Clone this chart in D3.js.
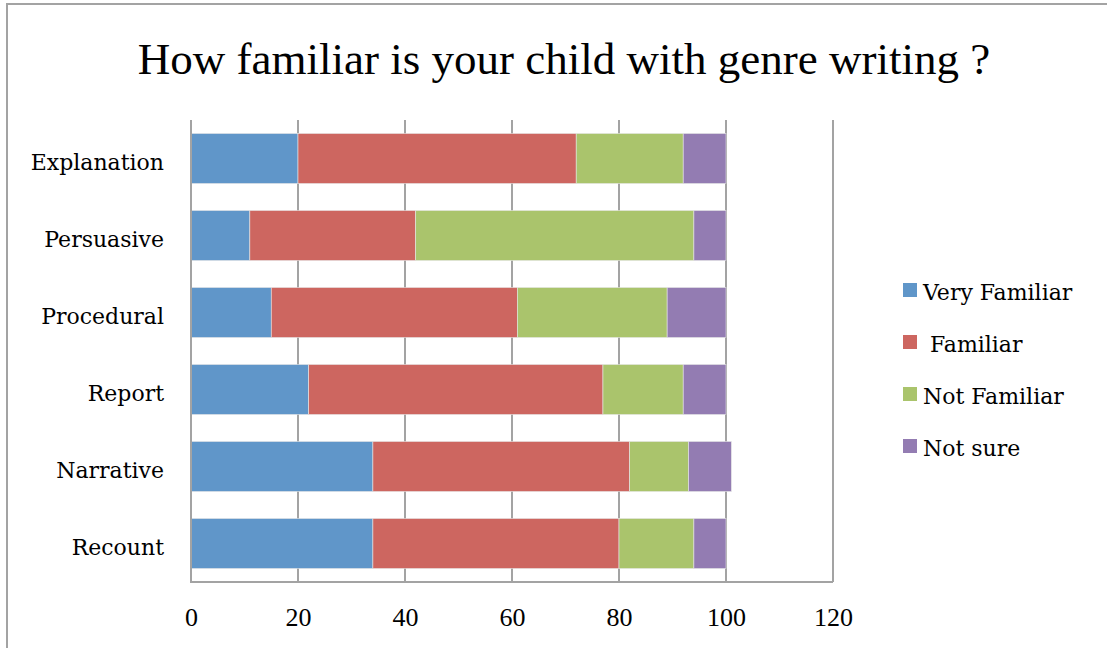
<!DOCTYPE html>
<html>
<head>
<meta charset="utf-8">
<script src="https://cdn.jsdelivr.net/npm/d3@7"></script>
<style>
  html, body { margin: 0; padding: 0; background: #ffffff; }
  svg { display: block; }
</style>
</head>
<body>
<svg id="chart" width="1107" height="648"></svg>
<script>
// Survey categories, listed top to bottom
const genres = ["Explanation", "Persuasive", "Procedural", "Report", "Narrative", "Recount"];

// Response shares per genre (stacked left to right)
const veryFamiliar = [20, 11, 15, 22, 34, 34];
const familiar     = [52, 31, 46, 55, 48, 46];
const notFamiliar  = [20, 52, 28, 15, 11, 14];
const notSure      = [8, 6, 11, 8, 8, 6];

const seriesNames = ["Very Familiar", " Familiar", "Not Familiar", "Not sure"];
const seriesColors = ["#6096c9", "#cd6660", "#aac46c", "#937cb2"];
const xTicks = [0, 20, 40, 60, 80, 100, 120];

const rows = genres.map((g, i) => ({
  genre: g,
  s0: veryFamiliar[i],
  s1: familiar[i],
  s2: notFamiliar[i],
  s3: notSure[i]
}));

const svg = d3.select("#chart");
const gridColor = "#a3a3a3";

// Outer chart frame (open to the right and bottom)
svg.append("path")
  .attr("d", "M7,648 L7,4 L1107,4")
  .attr("fill", "none")
  .attr("stroke", gridColor)
  .attr("stroke-width", 2);

const plot = { left: 191, right: 833, top: 120, bottom: 582 };

const x = d3.scaleLinear().domain([0, 120]).range([plot.left, plot.right]);
const y = d3.scaleBand().domain(genres).range([plot.top, plot.bottom])
  .paddingInner(0.35).paddingOuter(0.175);

// Vertical gridlines
svg.append("g")
  .selectAll("line")
  .data(xTicks)
  .join("line")
  .attr("x1", d => x(d)).attr("x2", d => x(d))
  .attr("y1", plot.top).attr("y2", plot.bottom)
  .attr("stroke", gridColor)
  .attr("stroke-width", 2);

// Stacked bars
const stack = d3.stack().keys(["s0", "s1", "s2", "s3"]);
const layers = stack(rows);

svg.append("g")
  .selectAll("g")
  .data(layers)
  .join("g")
  .attr("fill", (d, i) => seriesColors[i])
  .selectAll("rect")
  .data(d => d)
  .join("rect")
  .attr("x", d => x(d[0]))
  .attr("y", d => y(d.data.genre))
  .attr("width", d => x(d[1]) - x(d[0]))
  .attr("height", y.bandwidth())
  .attr("stroke", "#e6e6e6")
  .attr("stroke-width", 0.6);

// Axis frame: left and bottom lines
svg.append("path")
  .attr("d", `M${plot.left},${plot.top} L${plot.left},${plot.bottom} L${plot.right},${plot.bottom}`)
  .attr("fill", "none")
  .attr("stroke", gridColor)
  .attr("stroke-width", 2);

// X axis tick labels
const xAxis = d3.axisBottom(x).tickValues(xTicks).tickSize(0).tickPadding(0);
const xg = svg.append("g")
  .attr("transform", `translate(0,${plot.bottom})`)
  .call(xAxis);
xg.select(".domain").remove();
xg.selectAll("text")
  .attr("dy", null)
  .attr("y", 44)
  .attr("fill", "#000")
  .style("font-family", "'Liberation Serif', serif")
  .style("font-size", "26px");

// Y axis category labels
const yAxis = d3.axisLeft(y).tickSize(0).tickPadding(0);
const yg = svg.append("g")
  .attr("transform", `translate(164,0)`)
  .call(yAxis);
yg.select(".domain").remove();
yg.selectAll("text")
  .attr("dy", "0.42em")
  .attr("y", 2)
  .attr("fill", "#000")
  .style("font-family", "'DejaVu Serif', serif")
  .style("font-size", "22px");

// Title
svg.append("text")
  .attr("x", 564)
  .attr("y", 74)
  .attr("text-anchor", "middle")
  .style("font-family", "'Liberation Serif', serif")
  .style("font-size", "45px")
  .attr("fill", "#000")
  .text("How familiar is your child with genre writing ?");

// Legend
const legend = svg.append("g")
  .selectAll("g")
  .data(seriesNames)
  .join("g")
  .attr("transform", (d, i) => `translate(903,${300 + i * 52})`);

legend.append("rect")
  .attr("x", 0).attr("y", -17)
  .attr("width", 14).attr("height", 14)
  .attr("fill", (d, i) => seriesColors[i]);

legend.append("text")
  .attr("x", 20).attr("y", 0)
  .style("font-family", "'DejaVu Serif', serif")
  .style("font-size", "22px")
  .style("white-space", "pre")
  .attr("xml:space", "preserve")
  .attr("fill", "#000")
  .text(d => d);
</script>
</body>
</html>
